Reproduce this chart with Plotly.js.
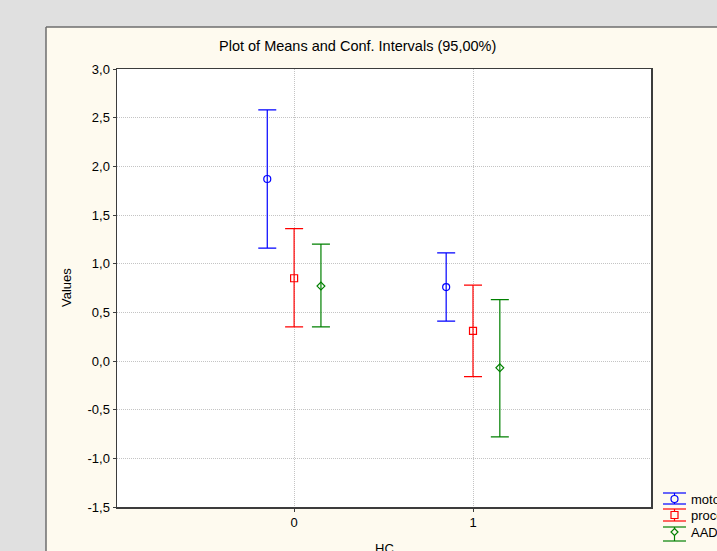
<!DOCTYPE html>
<html>
<head>
<meta charset="utf-8">
<script src="https://cdn.plot.ly/plotly-3.0.1.min.js"></script>
<style>html,body{margin:0;padding:0;background:#e0e0e0;}#chart{width:717px;height:551px;}</style>
</head>
<body>
<div id="chart"></div>
<script>
// Data
const categories = [0, 1];
const seriesNames = ["motor", "proces", "AAD"];
const motoMean = [1.87, 0.76];
const motoLow  = [1.16, 0.41];
const motoHigh = [2.58, 1.11];
const procMean = [0.85, 0.31];
const procLow  = [0.35, -0.16];
const procHigh = [1.36, 0.78];
const aadMean  = [0.77, -0.07];
const aadLow   = [0.35, -0.78];
const aadHigh  = [1.20, 0.63];
const yTickVals = [-1.5, -1.0, -0.5, 0.0, 0.5, 1.0, 1.5, 2.0, 2.5, 3.0];
const yTickText = ["-1,5", "-1,0", "-0,5", "0,0", "0,5", "1,0", "1,5", "2,0", "2,5", "3,0"];
const xTickText = ["0", "1"];

const offsets = [-0.15, 0, 0.15];
const colors = ["#0000ff", "#ff0000", "#008000"];
const symbols = ["circle-open", "square-open", "diamond-open"];
const sizes = [7, 7, 6];
const means = [motoMean, procMean, aadMean];
const lows = [motoLow, procLow, aadLow];
const highs = [motoHigh, procHigh, aadHigh];
const FONT = "Liberation Sans, Arial, sans-serif";
const CREAM = "#fefaef";

const traces = means.map((m, i) => ({
  type: "scatter", mode: "markers", name: seriesNames[i],
  x: categories.map(c => c + offsets[i]),
  y: m,
  marker: {symbol: symbols[i], size: sizes[i], color: colors[i], line: {width: 1.2, color: colors[i]}},
  error_y: {type: "data", symmetric: false,
    array: m.map((v, k) => highs[i][k] - v),
    arrayminus: m.map((v, k) => v - lows[i][k]),
    color: colors[i], thickness: 1.2, width: 9},
  showlegend: false, hoverinfo: "skip"
}));

const L = 117, R = 651, T = 69, B = 507;
const pw = R - L, ph = B - T;
const px = x => (x - L) / pw;
const py = y => (B - y) / ph;

const shapes = [
  {type: "rect", xref: "paper", yref: "paper", x0: px(46), x1: px(760), y0: py(600), y1: py(27),
   fillcolor: CREAM, line: {width: 0}, layer: "below"},
  {type: "line", xref: "paper", yref: "paper", x0: px(46), x1: px(46), y0: py(600), y1: py(27), line: {color: "#6e6e6e", width: 1.5}, layer: "below"},
  {type: "line", xref: "paper", yref: "paper", x0: px(46), x1: px(760), y0: py(27), y1: py(27), line: {color: "#6e6e6e", width: 1.5}, layer: "below"},
  {type: "rect", xref: "paper", yref: "paper", x0: 0, x1: 1, y0: 0, y1: 1, fillcolor: "#ffffff", line: {width: 0}, layer: "below"}
];
const ann = (text, x, y, extra) => Object.assign({text, xref: "paper", yref: "paper", x: px(x), y: py(y),
  xanchor: "center", yanchor: "middle", showarrow: false, font: {family: FONT, size: 13, color: "#000"}}, extra || {});
const annotations = [
  ann("Plot of Means and Conf. Intervals (95,00%)", 357, 46, {font: {family: FONT, size: 14.5, color: "#000"}}),
  ann("Values", 66, 288, {textangle: -90}),
  ann("HC", 384, 548)
];
// legend
const legY = [[493, 499, 504], [509, 515, 521], [527, 532, 541]];
legY.forEach((r, i) => {
  const c = colors[i];
  shapes.push({type: "line", xref: "paper", yref: "paper", x0: px(663), x1: px(686), y0: py(r[0]), y1: py(r[0]), line: {color: c, width: 1.2}});
  shapes.push({type: "line", xref: "paper", yref: "paper", x0: px(663), x1: px(686), y0: py(r[2]), y1: py(r[2]), line: {color: c, width: 1.2}});
  shapes.push({type: "line", xref: "paper", yref: "paper", x0: px(674.5), x1: px(674.5), y0: py(r[0]), y1: py(r[2]), line: {color: c, width: 1.2}});
  annotations.push(ann(seriesNames[i], 689, r[1], {xanchor: "left"}));
});
// legend glyph markers
const mx = 674.5;
shapes.push({type: "circle", xref: "paper", yref: "paper", x0: px(mx - 3.5), x1: px(mx + 3.5), y0: py(499 + 3.5), y1: py(499 - 3.5), fillcolor: CREAM, line: {color: colors[0], width: 1.2}});
shapes.push({type: "rect", xref: "paper", yref: "paper", x0: px(mx - 3.5), x1: px(mx + 3.5), y0: py(515 + 3.5), y1: py(515 - 3.5), fillcolor: CREAM, line: {color: colors[1], width: 1.2}});
shapes.push({type: "path", xref: "paper", yref: "paper",
  path: `M ${px(mx)} ${py(532 - 3.5)} L ${px(mx + 3.5)} ${py(532)} L ${px(mx)} ${py(532 + 3.5)} L ${px(mx - 3.5)} ${py(532)} Z`,
  fillcolor: CREAM, line: {color: colors[2], width: 1.2}});

const axisCommon = {showgrid: true, gridcolor: "#c4c4c4", griddash: "1px,1px", gridwidth: 1,
  zeroline: false, showline: true, mirror: true, linecolor: "#3c3c3c", linewidth: 1.5, ticks: "outside", ticklen: 3, tickcolor: "#3c3c3c",
  tickfont: {family: FONT, size: 13, color: "#000"}, fixedrange: true};
const layout = {
  width: 717, height: 551,
  margin: {l: L, r: 717 - R, t: T, b: 551 - B, pad: 0},
  paper_bgcolor: "#e0e0e0", plot_bgcolor: "rgba(0,0,0,0)",
  showlegend: false,
  xaxis: Object.assign({range: [-0.99, 1.995], tickvals: categories, ticktext: xTickText}, axisCommon),
  yaxis: Object.assign({range: [-1.5, 3.0], tickvals: yTickVals, ticktext: yTickText}, axisCommon),
  shapes: shapes, annotations: annotations
};
Plotly.newPlot("chart", traces, layout, {staticPlot: true, displayModeBar: false});
</script>
</body>
</html>
